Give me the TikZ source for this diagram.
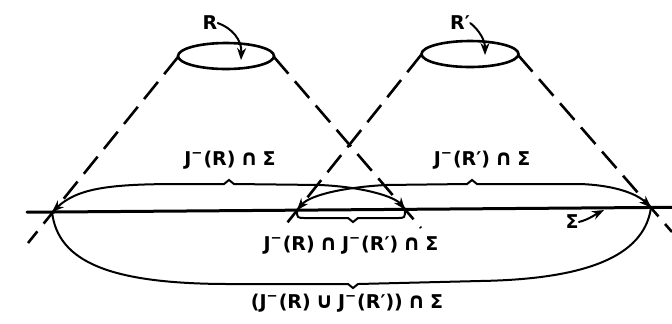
\documentclass[tikz,border=0pt]{standalone}
\usepackage{fontspec}
\setmainfont{DejaVu Sans}
\usetikzlibrary{arrows.meta}
\newcommand{\Jm}{J\textsuperscript{−}}
\newcommand{\Rp}{R′}
\newcommand{\capp}{\hspace{0.25em}\scalebox{1.15}{∩}\hspace{0.25em}}
\newcommand{\cupp}{\hspace{0.25em}\scalebox{1.15}{∪}\hspace{0.25em}}
\begin{document}
\begin{tikzpicture}[x=0.5pt,y=-0.5pt,line cap=round,
    cone/.style={line width=1.3pt,dash pattern=on 11pt off 5pt,line cap=butt},
    rim/.style={line width=1.3pt},
    region/.style={line width=1pt},
    tip/.style={-{Stealth[length=6pt,width=4.5pt]}},
    twotip/.style={{Stealth[length=6pt,width=4.5pt]}-{Stealth[length=6pt,width=4.5pt]}},
    lbl/.style={font=\bfseries\fontsize{9.5}{11}\selectfont,inner sep=0pt}]
  \useasboundingbox (0,0) rectangle (672,323);

  % the sets R, R' and their past cones
  \draw[rim] (226,56) ellipse (48 and 13);
  \draw[rim] (470,54) ellipse (48.5 and 13);
  \draw[cone] (178,57) -- (28,243);
  \draw[cone] (274,57) -- (421,228);
  \draw[cone] (421,55) -- (283,228);
  \draw[cone] (518,55) -- (672,232);

  % the surface Sigma
  \draw[line width=1.5pt] (27,212.2) -- (672,207.3);
  \coordinate (a1) at (52,212);
  \coordinate (a2) at (405,209.5);
  \coordinate (b1) at (297,210.2);
  \coordinate (b2) at (651,207.5);

  % labels
  \node[lbl] (lR) at (210,23) {R};
  \node[lbl] (lRp) at (460,23) {\Rp};
  \node[lbl] (lJR) at (230,160) {\Jm(R)\capp Σ};
  \node[lbl] (lJRp) at (482,160) {\Jm(\Rp)\capp Σ};
  \node[lbl] (lcap) at (351,245) {\Jm(R)\capp\Jm(\Rp)\capp Σ};
  \node[lbl] (lcup) at (347,303) {(\Jm(R)\cupp\Jm(\Rp))\capp Σ};
  \node[lbl] (lSig) at (572,222) {Σ};

  % pointers
  \draw[region,tip] (lR.east) .. controls (232,28) and (242,40) .. (241,60);
  \draw[region,tip] (lRp.east) .. controls (479,30) and (485,40) .. (485,55);
  \draw[region,tip] (lSig.east) .. controls (590,219) and (596,214) .. (604,210);

  % the pieces of Sigma
  \draw[region,twotip] (a1) .. controls (78,188) and (110,184) .. (180,184)
    -- (224,184) -- (229,180) -- (234,184) -- (320,185)
    .. controls (365,187) and (395,197) .. (a2);
  \draw[region,twotip] (b1) .. controls (308,197) and (335,188) .. (385,185)
    -- (467,184) -- (472,180) -- (477,184) -- (580,184)
    .. controls (610,185) and (635,192) .. (b2);
  \draw[region] (b1) .. controls (297,218) .. (306,218) -- (348,218)
    -- (353,222) -- (358,218) -- (397,218) .. controls (405,218) .. (a2);
  \draw[region] (a1) .. controls (58,262) and (110,284) .. (230,284)
    -- (348,284) -- (353,288) -- (358,284) -- (480,281)
    .. controls (600,279) and (645,250) .. (b2);
\end{tikzpicture}
\end{document}
